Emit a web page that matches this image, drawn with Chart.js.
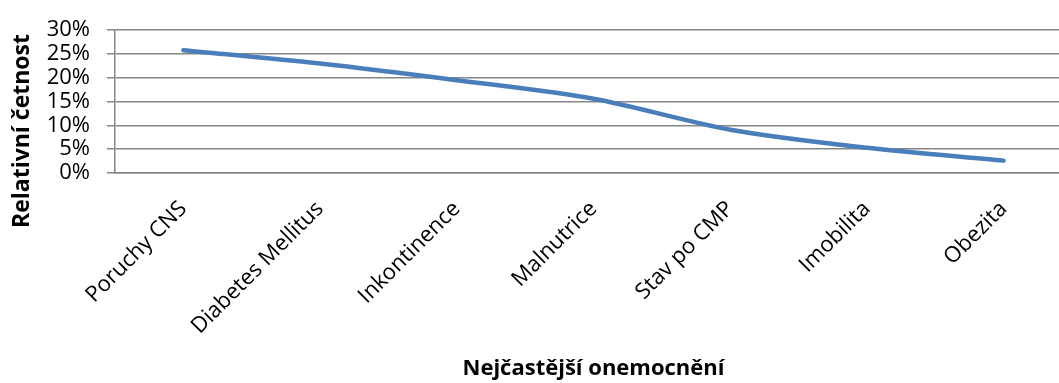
<!DOCTYPE html>
<html>
<head>
<meta charset="utf-8">
<script src="https://cdn.jsdelivr.net/npm/chart.js@4.4.0/dist/chart.umd.min.js"></script>
<style>
  html, body { margin: 0; padding: 0; background: #fff; overflow: hidden; }
  #wrap { width: 1072px; height: 383px; }
</style>
</head>
<body>
<div id="wrap"><canvas id="chart" width="1072" height="383"></canvas></div>
<script>
// nemoci a jejich relativni cetnost (%)
const categories = ['Poruchy CNS', 'Diabetes Mellitus', 'Inkontinence', 'Malnutrice', 'Stav po CMP', 'Imobilita', 'Obezita'];
const shares = [25.8, 23.0, 19.5, 15.6, 9.1, 5.3, 2.6];
const yTicks = [0, 5, 10, 15, 20, 25, 30];
const xTitle = 'Nejčastější onemocnění';
const yTitle = 'Relativní četnost';

const gridColor = '#868686';
const lineColor = '#4a7ebb';

Chart.defaults.font.family = '"Open Sans", sans-serif';
Chart.defaults.color = '#000';

// y title drawn by hand, it sits a bit below the middle of the plot
const yTitlePlugin = {
    id: 'yTitle',
    afterDraw(chart) {
        const c = chart.ctx;
        c.save();
        c.translate(22, 131);
        c.rotate(-Math.PI / 2);
        c.font = 'bold 23px "Open Sans"';
        c.fillStyle = '#000';
        c.textAlign = 'center';
        c.textBaseline = 'middle';
        c.fillText(yTitle, 0, 0);
        c.restore();
    }
};

const ctx = document.getElementById('chart').getContext('2d');
const myChart = new Chart(ctx, {
    type: 'line',
    data: {
        labels: categories,
        datasets: [{
            data: shares,
            borderColor: lineColor,
            borderWidth: 4.5,
            borderCapStyle: 'round',
            borderJoinStyle: 'round',
            tension: 0.3,
            pointRadius: 0,
            fill: false
        }]
    },
    options: {
        responsive: false,
        animation: false,
        layout: { padding: { top: 26, right: 0, bottom: 0, left: 0 } },
        plugins: {
            legend: { display: false },
            tooltip: { enabled: false }
        },
        scales: {
            x: {
                offset: true,
                grid: { display: false, drawTicks: false },
                border: { display: true, color: gridColor, width: 1.5 },
                ticks: {
                    autoSkip: false,
                    minRotation: 45,
                    maxRotation: 45,
                    padding: 23,
                    font: { size: 22 }
                },
                title: {
                    display: true,
                    text: xTitle,
                    font: { size: 22, weight: 'bold' },
                    padding: { top: 0, bottom: 1 }
                },
                afterFit: function (scale) { scale.height = 210; }
            },
            y: {
                min: 0,
                max: 30,
                afterBuildTicks: function (scale) {
                    scale.ticks = yTicks.map(v => ({ value: v }));
                },
                grid: { color: gridColor, lineWidth: 1.5, tickLength: 8 },
                border: { display: true, color: gridColor, width: 1.5 },
                ticks: {
                    autoSkip: false,
                    padding: 17,
                    font: { size: 22 },
                    callback: v => v + '%'
                },
                afterFit: function (scale) { scale.width = 115; }
            }
        }
    },
    plugins: [yTitlePlugin]
});
</script>
</body>
</html>
